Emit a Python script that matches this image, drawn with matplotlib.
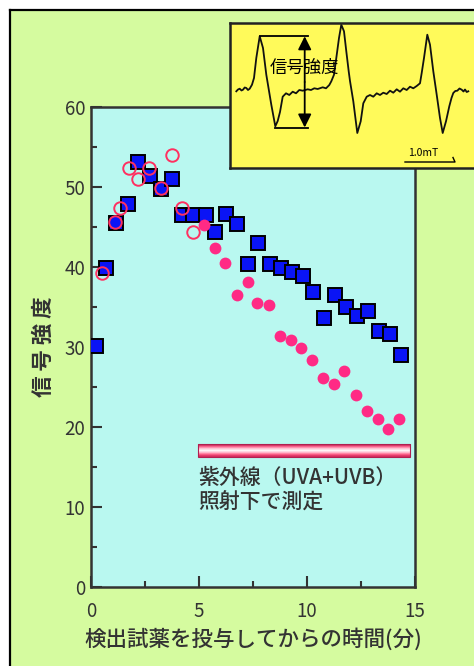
import numpy as np
import matplotlib
matplotlib.use('Agg')
import matplotlib.pyplot as plt
from matplotlib.patches import Rectangle
from matplotlib.lines import Line2D
from matplotlib.ticker import MultipleLocator

plt.rcParams['font.family'] = ['Noto Sans CJK JP', 'DejaVu Sans']

# Blue squares (all points, whole run).
sq_x = [0.23, 0.70, 1.16, 1.73, 2.19, 2.73, 3.23, 3.76, 4.20, 4.74, 5.31, 5.74,
        6.25, 6.77, 7.28, 7.75, 8.27, 8.78, 9.29, 9.80, 10.29, 10.79, 11.30,
        11.80, 12.30, 12.84, 13.33, 13.84, 14.34]
sq_y = [30.1, 39.8, 45.5, 47.8, 53.1, 51.3, 49.7, 51.0, 46.5, 46.5, 46.5, 44.4,
        46.6, 45.4, 40.3, 43.0, 40.4, 39.9, 39.4, 38.9, 36.9, 33.6, 36.5,
        35.0, 33.8, 34.5, 32.0, 31.6, 29.0]

# Open circles (before UV).
oc_x = [0.52, 1.11, 1.34, 1.77, 2.16, 2.70, 3.24, 3.74, 4.23, 4.74]
oc_y = [39.2, 45.6, 47.3, 52.4, 51.0, 52.3, 49.8, 54.0, 47.3, 44.3]

# Filled circles (under UV).
fc_x = [5.23, 5.74, 6.20, 6.75, 7.25, 7.70, 8.24, 8.75, 9.24, 9.71, 10.25,
        10.76, 11.27, 11.71, 12.25, 12.76, 13.30, 13.77, 14.27]
fc_y = [45.2, 42.4, 40.5, 36.5, 38.1, 35.5, 35.2, 31.3, 30.8, 29.9, 28.4,
        26.1, 25.3, 27.0, 24.0, 22.0, 21.0, 19.7, 21.0]

uv_start, uv_end = 4.95, 14.77
uv_label = '紫外線（UVA+UVB）\n照射下で測定'
xlabel = '検出試薬を投与してからの時間(分)'
ylabel = '信 号 強 度'

# Inset ESR spectrum (pixel units of the original).
trace_x = [236.3, 238.0, 239.7, 241.5, 243.0, 244.7, 246.3, 248.0, 249.7, 252.0,
           254.0, 256.3, 259.7, 263.0, 266.3, 271.3, 275.3, 277.7, 280.0, 282.7,
           286.0, 289.3, 292.7, 296.0, 299.3, 302.7, 307.7, 311.0, 314.3, 317.7,
           322.7, 326.0, 329.3, 331.3, 334.0, 336.3, 339.0, 341.3, 344.0, 346.3,
           348.7, 350.0, 353.3, 357.3, 360.7, 363.3, 366.7, 370.0, 373.3, 376.7,
           380.0, 383.3, 386.7, 390.0, 393.3, 396.7, 400.0, 403.3, 406.7, 410.0,
           413.3, 416.7, 420.0, 421.7, 424.0, 427.3, 430.0, 433.3, 436.7, 440.0,
           442.7, 446.0, 449.3, 451.5, 453.3, 455.3, 457.3, 459.5, 461.7, 463.5,
           465.0, 466.7, 468.3]
trace_y = [91.3, 89.5, 88.7, 90.5, 89.7, 87.5, 88.0, 90.0, 88.7, 84.7,
           78.0, 58.0, 36.3, 48.0, 74.7, 104.7, 126.3, 121.0, 112.0, 96.7,
           93.3, 95.0, 91.7, 93.3, 90.0, 90.7, 89.3, 90.0, 88.3, 89.0,
           87.3, 88.3, 85.0, 81.3, 74.7, 58.0, 38.0, 24.7, 31.3, 51.3,
           71.3, 81.0, 101.3, 133.0, 121.3, 103.3, 96.7, 95.0, 96.7, 93.3,
           95.0, 92.7, 94.0, 90.7, 92.7, 89.3, 91.7, 88.3, 90.0, 86.7,
           88.3, 86.0, 83.3, 73.0, 58.0, 34.7, 44.7, 71.3, 94.7, 118.0,
           133.0, 121.3, 106.3, 98.0, 93.0, 91.0, 90.7, 88.5, 89.7, 91.5,
           89.5, 92.0, 91.3]

W, H = 474, 666
fig = plt.figure(figsize=(W / 100, H / 100), dpi=100)
fig.patch.set_facecolor('white')

def fx(px):
    return px / W

def fy(py):
    return 1 - py / H

# Green panel with black frame on left and top.
fig.patches.append(Rectangle((fx(10), 0), 1, fy(10), transform=fig.transFigure,
                             facecolor='#d5fb9f', edgecolor='none', zorder=-5))
fig.lines.append(Line2D([fx(10), fx(10)], [0, fy(10)], transform=fig.transFigure,
                        color='black', lw=1.6, zorder=-4))
fig.lines.append(Line2D([fx(10), 1], [fy(10), fy(10)], transform=fig.transFigure,
                        color='black', lw=1.6, zorder=-4))

ax = fig.add_axes([fx(91), fy(586.7), fx(415) - fx(91), fy(106.7) - fy(586.7)])
ax.set_facecolor('#b9f8f0')
ax.set_xlim(0, 15)
ax.set_ylim(0, 60)

ax.plot(sq_x, sq_y, 's', ms=9.7, mfc='#0a14f5', mec='black', mew=1.4, zorder=3)
ax.plot(fc_x, fc_y, 'o', ms=8.5, mfc='#ff2a85', mec='none', zorder=4)
ax.plot(oc_x, oc_y, 'o', ms=9, mfc='none', mec='#ff3060', mew=1.4, zorder=5)

# UV exposure bar with a shaded look.
grad = np.array([[200, 40, 90], [255, 110, 150], [255, 200, 215], [255, 245, 248],
                 [255, 190, 208], [255, 100, 140], [215, 45, 95]]) / 255.0
ax.imshow(grad[:, None, :], extent=[uv_start, uv_end, 16.2, 17.8], aspect='auto',
          interpolation='bilinear', zorder=2)
ax.add_patch(Rectangle((uv_start, 16.2), uv_end - uv_start, 1.6, fill=False,
                       edgecolor='#b02050', lw=0.8, zorder=2))
ax.set_xlim(0, 15)
ax.set_ylim(0, 60)
ax.text(uv_start, 15.0, uv_label, fontsize=15, color='#333333', va='top',
        ha='left', linespacing=1.15, fontweight='medium')

ax.xaxis.set_major_locator(MultipleLocator(5))
ax.xaxis.set_minor_locator(MultipleLocator(2.5))
ax.yaxis.set_major_locator(MultipleLocator(10))
ax.yaxis.set_minor_locator(MultipleLocator(5))
ax.tick_params(which='both', direction='in', color='#333333', width=1.5,
               labelcolor='#333333', labelsize=13.5)
ax.tick_params(which='major', length=8)
ax.tick_params(which='minor', length=4)
ax.tick_params(axis='x', pad=10)
ax.tick_params(axis='y', pad=4)
for s in ax.spines.values():
    s.set_color('#333333')
    s.set_linewidth(1.8)
ax.set_xlabel(xlabel, fontsize=15.5, color='#333333', labelpad=5,
              fontweight='medium')
ax.set_ylabel(ylabel, fontsize=15.5, color='#333333', labelpad=8,
              fontweight='bold')

# Inset with the ESR spectrum.
ins = fig.add_axes([fx(230), fy(168.3), fx(482) - fx(230), fy(22.7) - fy(168.3)])
ins.set_facecolor('#fffa5a')
ins.set_xlim(230, 482)
ins.set_ylim(168.3, 22.7)
ins.set_xticks([])
ins.set_yticks([])
for s in ins.spines.values():
    s.set_color('#222222')
    s.set_linewidth(1.8)
ins.plot(trace_x, trace_y, color='#111111', lw=1.3)
ins.plot([259.7, 308], [36.3, 36.3], color='black', lw=1.3)
ins.plot([274.7, 308], [127.5, 127.5], color='black', lw=1.3)
ins.annotate('', xy=(304.7, 36.3), xytext=(304.7, 82),
             arrowprops=dict(arrowstyle='-|>', color='black', lw=1.3,
                             mutation_scale=20, shrinkA=0, shrinkB=0))
ins.annotate('', xy=(304.7, 127.5), xytext=(304.7, 82),
             arrowprops=dict(arrowstyle='-|>', color='black', lw=1.3,
                             mutation_scale=20, shrinkA=0, shrinkB=0))
ins.text(304.7, 68, '信号強度', fontsize=12.5, color='black', ha='center',
         va='center')
ins.plot([405, 455, 453], [162, 162, 157.5], color='black', lw=1.0)
ins.text(423, 153.5, '1.0mT', fontsize=7.5, color='black', ha='center',
         va='center')

fig.savefig('out.png', dpi=100)
